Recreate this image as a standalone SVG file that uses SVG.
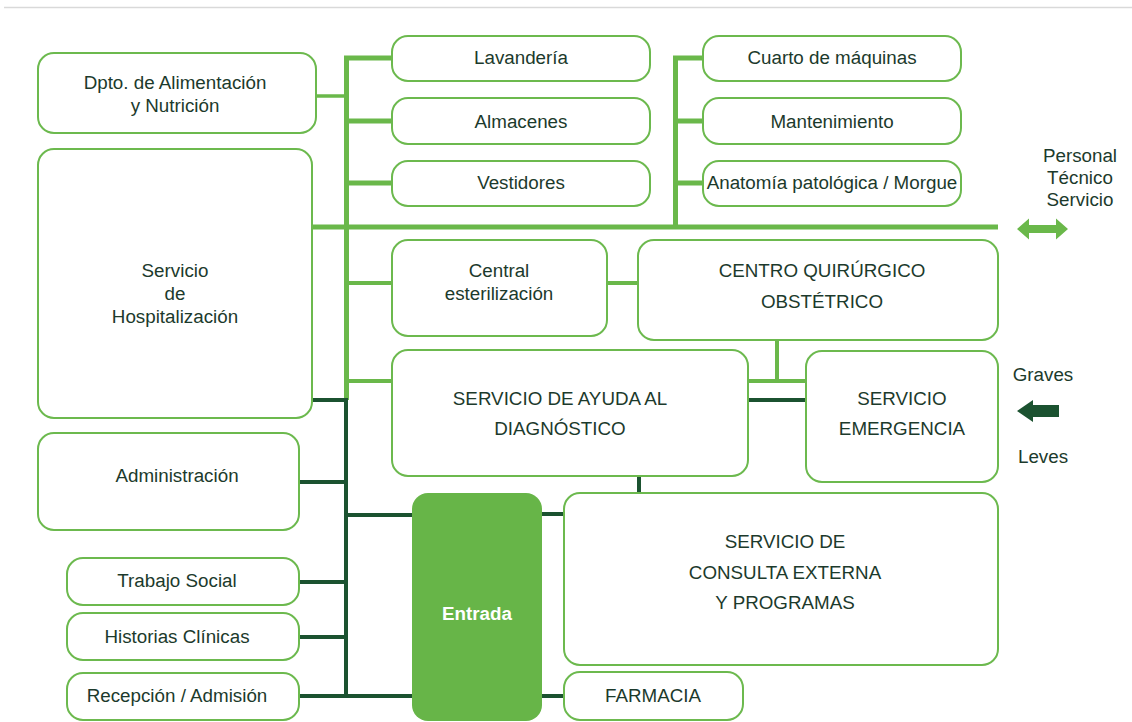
<svg xmlns="http://www.w3.org/2000/svg" width="1132" height="722" viewBox="0 0 1132 722">
<style>
.box{fill:#fff;stroke:#6cb94e;stroke-width:2}
.t{font-family:"Liberation Sans",Arial,sans-serif;font-size:18.8px;fill:#1c3a2c;text-anchor:middle}
.lg{stroke:#6ab84a;fill:none}
.dg{stroke:#1b5230;fill:none;stroke-width:4}
</style>
<rect x="0" y="0" width="1132" height="722" fill="#fff"/>
<line x1="4" y1="7.5" x2="1132" y2="7.5" stroke="#d9d9d9" stroke-width="1.5"/>
<g id="connectors">
<path class="lg" stroke-width="5" d="M346.5 56 V400 M344 58 H393 M344 121 H393 M344 183 H393 M312 227 H998 M675.5 56 V227 M673 58 H703 M673 121 H703 M673 183 H703"/>
<path class="lg" stroke-width="3.5" d="M316 96 H346"/>
<path class="lg" stroke-width="4" d="M346 283 H393 M607 283 H638 M346 381 H393 M777 340 V381 M748 381 H806"/>
<path class="dg" d="M312 400 H346 M346 398 V698 M299 482 H346 M299 582 H346 M299 637 H346 M299 696 H413 M346 515 H413 M542 514 H564 M542 696 H564 M639 476 V493 M748 400 H806"/>
</g>
<g id="dpto"><rect class="box" x="38" y="53" width="278" height="80" rx="16"/><text class="t" x="175" y="89">Dpto. de Alimentación</text><text class="t" x="175" y="112">y Nutrición</text></g>
<g id="hospitalizacion"><rect class="box" x="38" y="149" width="274" height="269" rx="16"/><text class="t" x="175" y="277">Servicio</text><text class="t" x="175" y="300">de</text><text class="t" x="175" y="323">Hospitalización</text></g>
<g id="lavanderia"><rect class="box" x="392" y="36" width="258" height="45" rx="16"/><text class="t" x="521" y="64">Lavandería</text></g>
<g id="almacenes"><rect class="box" x="392" y="98" width="258" height="46" rx="16"/><text class="t" x="521" y="128">Almacenes</text></g>
<g id="vestidores"><rect class="box" x="392" y="161" width="258" height="45" rx="16"/><text class="t" x="521" y="189">Vestidores</text></g>
<g id="cuarto"><rect class="box" x="703" y="36" width="258" height="45" rx="16"/><text class="t" x="832" y="64">Cuarto de máquinas</text></g>
<g id="mantenimiento"><rect class="box" x="703" y="98" width="258" height="46" rx="16"/><text class="t" x="832" y="128">Mantenimiento</text></g>
<g id="anatomia"><rect class="box" x="703" y="161" width="258" height="45" rx="16"/><text class="t" x="832" y="189">Anatomía patológica / Morgue</text></g>
<g id="personal"><text class="t" x="1080" y="162">Personal</text><text class="t" x="1080" y="184">Técnico</text><text class="t" x="1080" y="206">Servicio</text>
<polygon points="1017,229 1029,218.5 1029,225 1056,225 1056,218.5 1068,229 1056,239.5 1056,233 1029,233 1029,239.5" fill="#6ab84a"/></g>
<g id="central"><rect class="box" x="392" y="240" width="215" height="96" rx="16"/><text class="t" x="499" y="277">Central</text><text class="t" x="499" y="300">esterilización</text></g>
<g id="quirurgico"><rect class="box" x="638" y="240" width="360" height="100" rx="16"/><text class="t" x="822" y="277">CENTRO QUIRÚRGICO</text><text class="t" x="822" y="308">OBSTÉTRICO</text></g>
<g id="diagnostico"><rect class="box" x="392" y="350" width="356" height="126" rx="16"/><text class="t" x="560" y="405">SERVICIO DE AYUDA AL</text><text class="t" x="560" y="435">DIAGNÓSTICO</text></g>
<g id="emergencia"><rect class="box" x="806" y="351" width="192" height="131" rx="16"/><text class="t" x="902" y="405">SERVICIO</text><text class="t" x="902" y="435">EMERGENCIA</text></g>
<g id="graves"><text class="t" x="1043" y="381">Graves</text><text class="t" x="1043" y="463">Leves</text>
<polygon points="1017,411 1033,400 1033,405 1059,405 1059,417 1033,417 1033,422" fill="#1b5230"/></g>
<g id="administracion"><rect class="box" x="38" y="433" width="261" height="97" rx="16"/><text class="t" x="177" y="482">Administración</text></g>
<g id="trabajo"><rect class="box" x="67" y="558" width="232" height="47" rx="16"/><text class="t" x="177" y="587">Trabajo Social</text></g>
<g id="historias"><rect class="box" x="67" y="613" width="232" height="47" rx="16"/><text class="t" x="177" y="643">Historias Clínicas</text></g>
<g id="recepcion"><rect class="box" x="67" y="673" width="232" height="47" rx="16"/><text class="t" x="177" y="702">Recepción / Admisión</text></g>
<g id="entrada"><rect x="412" y="493" width="130" height="228" rx="16" fill="#67b548"/><text class="t" x="477" y="620" style="fill:#fff;font-weight:bold">Entrada</text></g>
<g id="consulta"><rect class="box" x="564" y="493" width="434" height="172" rx="16"/><text class="t" x="785" y="548">SERVICIO DE</text><text class="t" x="785" y="579">CONSULTA EXTERNA</text><text class="t" x="785" y="609">Y PROGRAMAS</text></g>
<g id="farmacia"><rect class="box" x="564" y="672" width="179" height="48" rx="16"/><text class="t" x="653" y="702">FARMACIA</text></g>
</svg>
